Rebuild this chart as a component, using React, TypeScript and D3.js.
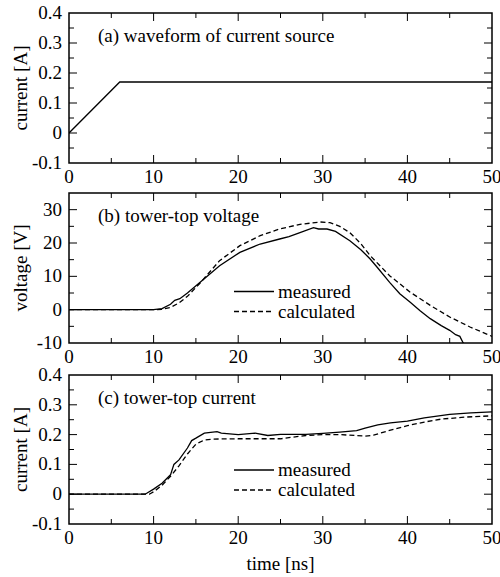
import React from "react";
import * as d3 from "d3";

// ---- data ----
const timeA = [0, 6, 50];
const currentA = [0, 0.17, 0.17];

const timeBMeas = [0, 5, 10, 11, 12, 12.5, 13.1, 14, 15.5, 17.8, 20.2, 22.6, 24.9, 26, 27.3, 28.9, 29.5, 30.5, 31.5, 33.2, 34.5, 35.6, 36.5, 37.9, 39.1, 40.3, 41.5, 42.7, 44, 45, 45.7, 46.2, 46.6, 47];
const voltBMeas = [0, 0, 0, 0.3, 1.6, 2.8, 3.3, 5, 8.2, 13.2, 17.2, 19.7, 21.2, 21.9, 23.1, 24.6, 24.2, 24.2, 23.5, 20.7, 18, 15.2, 12.5, 8.2, 4.8, 2.3, -0.3, -2.7, -4.8, -6.2, -7.5, -8, -10, -11];
const timeBCalc = [0, 10, 11, 12, 13, 14, 15.5, 17.8, 20.2, 22.6, 24.9, 27.3, 29.7, 30.85, 32, 33.2, 34.5, 35.6, 37.9, 40.3, 42.7, 45, 47.4, 50];
const voltBCalc = [0, 0, 0.1, 0.7, 2, 4, 8, 14.7, 19.2, 22.2, 24.2, 25.6, 26.3, 26.1, 25, 23.1, 19.8, 16.2, 10.2, 5.3, 1.3, -2.2, -5.2, -8];

const timeCMeas = [0, 5, 9, 10, 11, 12, 12.4, 13, 14, 14.5, 15, 16, 17.5, 18, 20, 22, 23.5, 25, 28, 30, 32, 34, 35, 36.5, 38, 40, 42, 45, 47.5, 50];
const currCMeas = [0, 0, 0, 0.017, 0.037, 0.065, 0.1, 0.115, 0.155, 0.18, 0.188, 0.205, 0.21, 0.205, 0.2, 0.205, 0.197, 0.201, 0.201, 0.204, 0.208, 0.213, 0.222, 0.233, 0.239, 0.245, 0.256, 0.268, 0.273, 0.276];
const timeCCalc = [0, 5, 9.5, 10, 11, 12, 13, 14, 15, 16, 17, 20, 25, 28, 30, 32, 35, 36, 38, 40, 42, 44, 47, 50];
const currCCalc = [0, 0, 0, 0.008, 0.03, 0.06, 0.095, 0.135, 0.168, 0.182, 0.185, 0.186, 0.186, 0.197, 0.2, 0.2, 0.195, 0.198, 0.215, 0.23, 0.242, 0.252, 0.259, 0.263];

const xTicks = [0, 10, 20, 30, 40, 50];
const yTicksA = [-0.1, 0, 0.1, 0.2, 0.3, 0.4];
const yTicksB = [-10, 0, 10, 20, 30];
const yTicksC = [-0.1, 0, 0.1, 0.2, 0.3, 0.4];

const legendLabels = ["measured", "calculated"];

const FONT = "Liberation Serif";
const LEFT = 69;
const RIGHT = 492;

type Series = { t: number[]; v: number[]; dashed?: boolean };

function fmt(v: number) {
  if (Math.abs(v) < 1e-9) return "0";
  return String(+v.toFixed(2));
}

const txt = { fontFamily: FONT, fontSize: 19 } as React.CSSProperties;

function Panel(props: {
  top: number;
  bottom: number;
  yDomain: [number, number];
  yTicks: number[];
  yMinor: number;
  yLabel: string;
  title: string;
  series: Series[];
  legend?: { y: number };
  id: string;
}) {
  const { top, bottom, yDomain, yTicks, yMinor, yLabel, title, series, legend, id } = props;
  const x = d3.scaleLinear().domain([0, 50]).range([LEFT, RIGHT]);
  const y = d3.scaleLinear().domain(yDomain).range([bottom, top]);
  const majorLen = 8;
  const minorLen = 5;
  const xMinor = d3.range(5, 50, 10);
  const yMinorTicks: number[] = [];
  for (let v = yDomain[0] + yMinor; v < yDomain[1] - 1e-9; v += yMinor * 2) yMinorTicks.push(+v.toFixed(4));
  const yMajorInner = yTicks.filter((v) => v > yDomain[0] + 1e-9 && v < yDomain[1] - 1e-9);
  const xMajorInner = xTicks.filter((v) => v > 0 && v < 50);
  const line = d3
    .line<[number, number]>()
    .x((d) => x(d[0]))
    .y((d) => y(d[1]));
  return (
    <g>
      <defs>
        <clipPath id={id}>
          <rect x={LEFT} y={top} width={RIGHT - LEFT} height={bottom - top} />
        </clipPath>
      </defs>
      <g clipPath={`url(#${id})`}>
        {series.map((s, i) => (
          <path
            key={i}
            d={line(s.t.map((t, j) => [t, s.v[j]]) as [number, number][]) || ""}
            fill="none"
            stroke="#000"
            strokeWidth={1.3}
            strokeDasharray={s.dashed ? "5,3" : undefined}
          />
        ))}
      </g>
      <rect x={LEFT} y={top} width={RIGHT - LEFT} height={bottom - top} fill="none" stroke="#000" strokeWidth={1.5} />
      {xMajorInner.map((v) => (
        <g key={"xm" + v}>
          <line x1={x(v)} x2={x(v)} y1={bottom} y2={bottom - majorLen} stroke="#000" strokeWidth={1} />
          <line x1={x(v)} x2={x(v)} y1={top} y2={top + majorLen} stroke="#000" strokeWidth={1} />
        </g>
      ))}
      {xMinor.map((v) => (
        <g key={"xn" + v}>
          <line x1={x(v)} x2={x(v)} y1={bottom} y2={bottom - minorLen} stroke="#000" strokeWidth={1} />
          <line x1={x(v)} x2={x(v)} y1={top} y2={top + minorLen} stroke="#000" strokeWidth={1} />
        </g>
      ))}
      {yMajorInner.map((v) => (
        <g key={"ym" + v}>
          <line x1={LEFT} x2={LEFT + majorLen} y1={y(v)} y2={y(v)} stroke="#000" strokeWidth={1} />
          <line x1={RIGHT} x2={RIGHT - majorLen} y1={y(v)} y2={y(v)} stroke="#000" strokeWidth={1} />
        </g>
      ))}
      {yMinorTicks.map((v) => (
        <g key={"yn" + v}>
          <line x1={LEFT} x2={LEFT + minorLen} y1={y(v)} y2={y(v)} stroke="#000" strokeWidth={1} />
          <line x1={RIGHT} x2={RIGHT - minorLen} y1={y(v)} y2={y(v)} stroke="#000" strokeWidth={1} />
        </g>
      ))}
      {xTicks.map((v) => (
        <text key={"xl" + v} x={x(v)} y={bottom + 20} textAnchor="middle" style={txt}>
          {fmt(v)}
        </text>
      ))}
      {yTicks.map((v) => (
        <text key={"yl" + v} x={LEFT - 7} y={y(v) + 6} textAnchor="end" style={txt}>
          {fmt(v)}
        </text>
      ))}
      <text
        transform={`translate(${27},${(top + bottom) / 2}) rotate(-90)`}
        textAnchor="middle"
        style={txt}
      >
        {yLabel}
      </text>
      <text x={98} y={top + 29} style={txt}>
        {title}
      </text>
      {legend &&
        legendLabels.map((lab, i) => (
          <g key={lab}>
            <line
              x1={234}
              x2={274}
              y1={legend.y + i * 20}
              y2={legend.y + i * 20}
              stroke="#000"
              strokeWidth={1.3}
              strokeDasharray={i === 1 ? "5,3" : undefined}
            />
            <text x={278} y={legend.y + i * 20 + 6} style={txt}>
              {lab}
            </text>
          </g>
        ))}
    </g>
  );
}

export default function App() {
  return (
    <svg width={500} height={577} style={{ position: "absolute", left: 0, top: 0, background: "#fff" }}>
      <rect width={500} height={577} fill="#fff" />
      <Panel
        id="clipA"
        top={13}
        bottom={163}
        yDomain={[-0.1, 0.4]}
        yTicks={yTicksA}
        yMinor={0.05}
        yLabel="current [A]"
        title="(a) waveform of current source"
        series={[{ t: timeA, v: currentA }]}
      />
      <Panel
        id="clipB"
        top={193}
        bottom={343}
        yDomain={[-10, 35]}
        yTicks={yTicksB}
        yMinor={5}
        yLabel="voltage [V]"
        title="(b) tower-top voltage"
        series={[
          { t: timeBMeas, v: voltBMeas },
          { t: timeBCalc, v: voltBCalc, dashed: true },
        ]}
        legend={{ y: 291.5 }}
      />
      <Panel
        id="clipC"
        top={375}
        bottom={524}
        yDomain={[-0.1, 0.4]}
        yTicks={yTicksC}
        yMinor={0.05}
        yLabel="current [A]"
        title="(c) tower-top current"
        series={[
          { t: timeCMeas, v: currCMeas },
          { t: timeCCalc, v: currCCalc, dashed: true },
        ]}
        legend={{ y: 470 }}
      />
      <text x={(LEFT + RIGHT) / 2} y={570} textAnchor="middle" style={txt}>
        time [ns]
      </text>
    </svg>
  );
}
